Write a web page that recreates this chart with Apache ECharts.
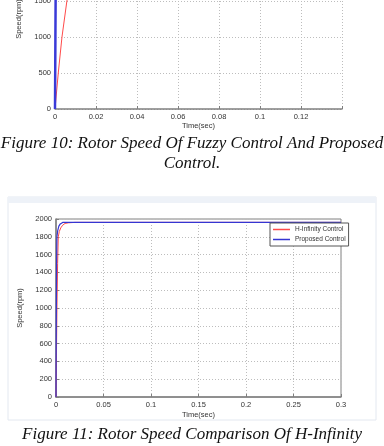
<!DOCTYPE html>
<html>
<head>
<meta charset="utf-8">
<script src="https://cdn.jsdelivr.net/npm/echarts@6/dist/echarts.min.js"></script>
<style>html,body{margin:0;padding:0;background:#fff;}#c{width:384px;height:446px;}</style>
</head>
<body>
<div id="c"></div>
<script>
// Figure 10 data (time in s, speed in rpm)
var fig10Time = [0, 0.0016, 0.0034, 0.0058, 0.0087, 0.012, 0.016, 0.14];
var fig10Fuzzy = [0, 500, 1000, 1500, 1800, 1930, 1960, 1960];
var fig10PropTime = [0, 0.0001, 0.0002, 0.0003, 0.0006, 0.001, 0.14];
var fig10Proposed = [0, 500, 1000, 1500, 1850, 1960, 1960];
var fig10XTicks = ['0', '0.02', '0.04', '0.06', '0.08', '0.1', '0.12'];

// Figure 11 data
var fig11HTime = [0, 0.0005, 0.001, 0.0017, 0.0024, 0.0035, 0.005, 0.007, 0.0095, 0.013, 0.02, 0.3];
var fig11HInf = [0, 500, 1000, 1500, 1800, 1860, 1900, 1930, 1950, 1957, 1962, 1962];
var fig11PTime = [0, 0.0003, 0.0006, 0.001, 0.0018, 0.003, 0.0045, 0.007, 0.3];
var fig11Proposed = [0, 800, 1500, 1800, 1870, 1920, 1945, 1962, 1962];

var legendNames = ['H-Infinity Control', 'Proposed Control'];
var captions = ['Figure 10: Rotor Speed Of Fuzzy Control And Proposed', 'Control.', 'Figure 11: Rotor Speed Comparison Of H-Infinity'];

function pairs(xs, ys) { return xs.map(function (x, i) { return [x, ys[i]]; }); }
function plain(v) { return String(Math.round(v * 1000) / 1000); }

var tickFont = { fontFamily: 'Liberation Sans Narrow, Liberation Sans, Arial', fontSize: 7.5, color: '#333' };
var axisLine = { show: true, lineStyle: { color: '#808080', width: 1.5 } };
var splitLine = { show: true, lineStyle: { color: '#bdbdbd', type: [1, 2], width: 1 } };
var capStyle = { fontFamily: 'Liberation Serif', fontStyle: 'italic', fontWeight: 'normal', fontSize: 17, color: '#111' };

var chart = echarts.init(document.getElementById('c'), null, { renderer: 'canvas' });
chart.setOption({
  animation: false,
  backgroundColor: '#fff',
  graphic: [
    { type: 'rect', shape: { x: 8, y: 197, width: 368, height: 223 }, style: { fill: '#fff', stroke: '#e3e8f0', lineWidth: 1 }, z: -10 },
    { type: 'rect', shape: { x: 8, y: 197, width: 368, height: 6 }, style: { fill: '#eef2f8' }, z: -9 }
  ],
  title: [
    { text: captions[0], left: 'center', top: 130, textStyle: capStyle },
    { text: captions[1], left: 'center', top: 150, textStyle: capStyle },
    { text: captions[2], left: 'center', top: 421, textStyle: capStyle }
  ],
  legend: {
    data: legendNames,
    orient: 'vertical',
    left: 270, top: 223,
    padding: [3, 3, 3, 3],
    itemGap: 3,
    itemWidth: 17, itemHeight: 1.5,
    icon: 'rect',
    borderColor: '#555', borderWidth: 1,
    backgroundColor: '#fff',
    textStyle: { fontFamily: 'Liberation Sans Narrow, Liberation Sans, Arial', fontSize: 6.5, color: '#333' }
  },
  grid: [
    { left: 55, top: -71, width: 287, height: 180, show: false, outerBoundsMode: 'none', containLabel: false },
    { left: 56, top: 219, width: 285, height: 178, show: true, borderColor: '#808080', borderWidth: 1, backgroundColor: 'transparent', outerBoundsMode: 'none' }
  ],
  xAxis: [
    { type: 'value', gridIndex: 0, min: 0, max: 0.14, interval: 0.02,
      name: 'Time(sec)', nameLocation: 'middle', nameGap: 13, nameTextStyle: tickFont,
      axisLine: axisLine, axisTick: { show: true, inside: true, length: 3, lineStyle: { color: '#808080' } },
      axisLabel: Object.assign({ margin: 4, formatter: function (v) { var i = Math.round(v / 0.02); return i < fig10XTicks.length ? fig10XTicks[i] : ''; } }, tickFont),
      splitLine: splitLine },
    { type: 'value', gridIndex: 1, min: 0, max: 0.3, interval: 0.05,
      name: 'Time(sec)', nameLocation: 'middle', nameGap: 14, nameTextStyle: tickFont,
      axisLine: axisLine, axisTick: { show: true, inside: true, length: 3, lineStyle: { color: '#808080' } },
      axisLabel: Object.assign({ margin: 4, formatter: plain }, tickFont),
      splitLine: splitLine }
  ],
  yAxis: [
    { type: 'value', gridIndex: 0, min: 0, max: 2500, interval: 500,
      name: 'Speed(rpm)', nameLocation: 'middle', nameGap: 20, nameRotate: 90, nameTextStyle: tickFont,
      axisLine: { show: false }, axisTick: { show: false },
      axisLabel: Object.assign({ margin: 4, formatter: plain }, tickFont), splitLine: splitLine },
    { type: 'value', gridIndex: 1, min: 0, max: 2000, interval: 200,
      name: 'Speed(rpm)', nameLocation: 'middle', nameGap: 20, nameRotate: 90, nameTextStyle: tickFont,
      axisLine: axisLine, axisTick: { show: true, inside: true, length: 3, lineStyle: { color: '#808080' } },
      axisLabel: Object.assign({ margin: 4, formatter: plain }, tickFont), splitLine: splitLine }
  ],
  series: [
    { name: 'Fuzzy Control', type: 'line', xAxisIndex: 0, yAxisIndex: 0, data: pairs(fig10Time, fig10Fuzzy), showSymbol: false, lineStyle: { color: '#ff4a4a', width: 1 }, itemStyle: { color: '#ff4a4a' } },
    { name: 'Proposed (Fig. 10)', type: 'line', xAxisIndex: 0, yAxisIndex: 0, data: pairs(fig10PropTime, fig10Proposed), showSymbol: false, lineStyle: { color: '#3a3ad8', width: 2.5 }, itemStyle: { color: '#3a3ad8' } },
    { name: legendNames[0], type: 'line', xAxisIndex: 1, yAxisIndex: 1, data: pairs(fig11HTime, fig11HInf), showSymbol: false, lineStyle: { color: '#ff4a4a', width: 1 }, itemStyle: { color: '#ff4a4a' } },
    { name: legendNames[1], type: 'line', xAxisIndex: 1, yAxisIndex: 1, data: pairs(fig11PTime, fig11Proposed), showSymbol: false, lineStyle: { color: '#3535d2', width: 1.2 }, itemStyle: { color: '#3535d2' } }
  ]
});
</script>
</body>
</html>
